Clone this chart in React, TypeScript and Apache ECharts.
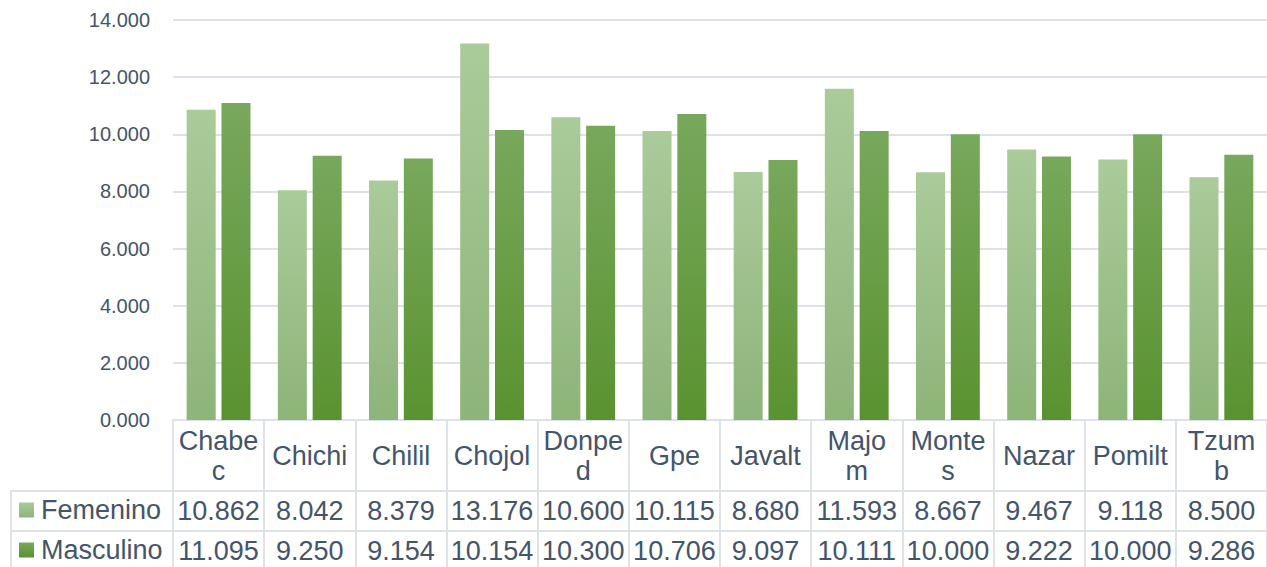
import React, { useEffect, useRef } from "react";
import * as echarts from "echarts";

const categories = ["Chabec", "Chichi", "Chilil", "Chojol", "Donped", "Gpe", "Javalt", "Majom", "Montes", "Nazar", "Pomilt", "Tzumb"];
const femenino = [10.862, 8.042, 8.379, 13.176, 10.6, 10.115, 8.68, 11.593, 8.667, 9.467, 9.118, 8.5];
const masculino = [11.095, 9.25, 9.154, 10.154, 10.3, 10.706, 9.097, 10.111, 10.0, 9.222, 10.0, 9.286];
const seriesNames = ["Femenino", "Masculino"];
const yMin = 0;
const yMax = 14;
const yStep = 2;

const FONT = "'Liberation Sans', Arial, sans-serif";
const TEXT = "#44546a";
const RULE = "#dde2e9";

const grad = (top: string, bottom: string) =>
  new echarts.graphic.LinearGradient(0, 0, 0, 1, [
    { offset: 0, color: top },
    { offset: 1, color: bottom },
  ]);

const fmt = (v: number) => v.toFixed(3);

export default function App() {
  const ref = useRef<HTMLDivElement>(null);

  useEffect(() => {
    if (!ref.current) return;
    const chart = echarts.init(ref.current, null, { renderer: "svg" });

    // one extra category axis per table row, stacked below the plot
    const tableAxis = (offset: number, tickLen: number, margin: number, values: number[] | null) => ({
      type: "category",
      data: categories,
      position: "bottom",
      offset,
      boundaryGap: true,
      axisLine: { show: true, lineStyle: { color: RULE, width: 2 } },
      axisTick: { show: true, interval: 0, length: tickLen, lineStyle: { color: RULE, width: 2 } },
      splitLine: { show: false },
      axisLabel: {
        interval: 0,
        margin,
        verticalAlign: "middle",
        color: TEXT,
        fontFamily: FONT,
        fontSize: 27,
        lineHeight: 30,
        ...(values
          ? { formatter: (_: string, i: number) => fmt(values[i]) }
          : { width: 80, overflow: "breakAll" }),
      },
    });

    chart.setOption({
      animation: false,
      backgroundColor: "#ffffff",
      grid: { left: 173, right: 0, top: 20, bottom: 147, containLabel: false },
      legend: {
        orient: "vertical",
        left: 19,
        top: 495,
        padding: 0,
        itemWidth: 15,
        itemHeight: 15,
        itemGap: 10,
        icon: "rect",
        data: seriesNames,
        textStyle: { color: TEXT, fontFamily: FONT, fontSize: 27, lineHeight: 30, padding: [0, 0, 0, 2] },
      },
      xAxis: [
        tableAxis(0, 71, 36, null),
        tableAxis(71, 40, 20, femenino),
        tableAxis(111, 40, 20, masculino),
      ],
      yAxis: {
        type: "value",
        min: yMin,
        max: yMax,
        interval: yStep,
        axisLine: { show: false },
        axisTick: { show: false },
        splitLine: { lineStyle: { color: RULE, width: 2 } },
        axisLabel: { color: TEXT, fontFamily: FONT, fontSize: 20, margin: 23, formatter: (v: number) => fmt(v) },
      },
      graphic: [
        { type: "line", shape: { x1: 11, y1: 491, x2: 173, y2: 491 }, style: { stroke: RULE, lineWidth: 2 } },
        { type: "line", shape: { x1: 11, y1: 531, x2: 173, y2: 531 }, style: { stroke: RULE, lineWidth: 2 } },
        { type: "line", shape: { x1: 11, y1: 490, x2: 11, y2: 567 }, style: { stroke: RULE, lineWidth: 2 } },
      ],
      series: [
        {
          name: seriesNames[0],
          type: "bar",
          xAxisIndex: 0,
          data: femenino,
          barWidth: 29,
          barGap: "20%",
          itemStyle: { color: grad("#aacb9a", "#8db479") },
        },
        {
          name: seriesNames[1],
          type: "bar",
          xAxisIndex: 0,
          data: masculino,
          barWidth: 29,
          barGap: "20%",
          itemStyle: { color: grad("#78a85c", "#5a9230") },
        },
      ],
    });

    return () => chart.dispose();
  }, []);

  return (
    <div
      ref={ref}
      style={{ position: "fixed", left: 0, top: 0, width: 1267, height: 567, background: "#fff" }}
    />
  );
}
